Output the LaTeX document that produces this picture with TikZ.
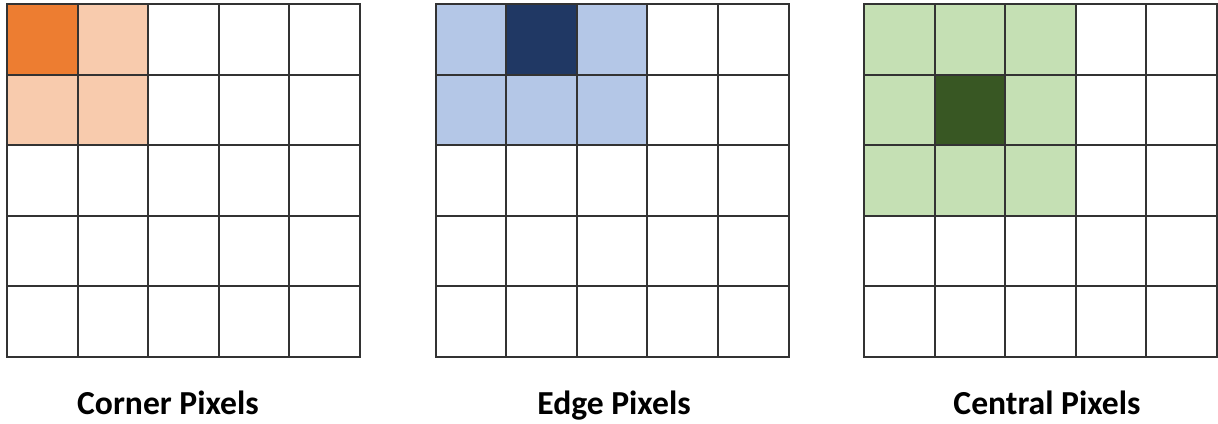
\documentclass[tikz,border=0pt]{standalone}
\usepackage{fontspec}
\setmainfont{Carlito}
\usetikzlibrary{positioning}
\definecolor{cornerdark}{HTML}{ED7D31}
\definecolor{cornerlight}{HTML}{F8CBAD}
\definecolor{edgedark}{HTML}{203864}
\definecolor{edgelight}{HTML}{B4C7E7}
\definecolor{centraldark}{HTML}{385723}
\definecolor{centrallight}{HTML}{C5E0B4}

\begin{document}
\begin{tikzpicture}[x=0.75pt, y=-0.75pt,
  cell/.style={draw=black!80, line width=1.5pt, minimum size=52.95pt,
    inner sep=0pt, outer sep=0pt},
  block/.style={inner sep=0pt, outer sep=0pt, anchor=north west},
  caption/.style={font=\bfseries\fontsize{25.2}{29}\selectfont, anchor=base}]
\useasboundingbox (0,0) rectangle (1218,424);

% shaded neighbourhoods
\node[block, fill=cornerlight, minimum width=105.9pt, minimum height=105.9pt]
  (cornerzone) at (7,4) {};
\node[block, fill=edgelight, minimum width=158.85pt, minimum height=105.9pt]
  (edgezone) at (435.5,4) {};
\node[block, fill=centrallight, minimum width=158.85pt, minimum height=158.85pt]
  (centralzone) at (864,4) {};

% the pixels themselves
\node[block, fill=cornerdark, minimum size=52.95pt] (cornerpx) at (7,4) {};
\node[block, fill=edgedark, minimum size=52.95pt] (edgepx) at (506.1,4) {};
\node[block, fill=centraldark, minimum size=52.95pt] (centralpx) at (934.6,74.6) {};

% 5x5 grids
\foreach \g/\x in {corner/7, edge/435.5, central/864}
  \foreach \i in {0,...,4}
    \foreach \j in {0,...,4}
      \node[cell] (\g-\i-\j) at (\x+35.3+70.6*\i, 39.3+70.6*\j) {};

\node[caption] (cornerlabel) at (168,414) {Corner Pixels};
\node[caption] (edgelabel) at (614,414) {Edge Pixels};
\node[caption] (centrallabel) at (1047,414) {Central Pixels};
\end{tikzpicture}
\end{document}
